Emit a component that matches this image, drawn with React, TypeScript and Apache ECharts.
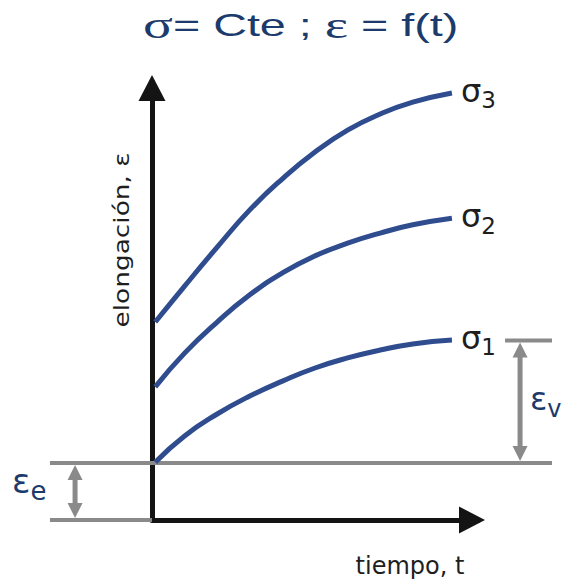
import React, { useEffect, useRef } from 'react';
import * as echarts from 'echarts';

// time values (arbitrary units) along the x axis
const times = [0.1, 1, 2, 3, 4, 5, 6, 7, 8, 9.2];
// elongation curves for three constant stresses
const sigma1 = [1.32, 1.92, 2.42, 2.83, 3.17, 3.47, 3.7, 3.88, 4.02, 4.11];
const sigma2 = [3.04, 3.81, 4.52, 5.14, 5.64, 6.03, 6.32, 6.55, 6.74, 6.89];
const sigma3 = [4.52, 5.34, 6.23, 7.08, 7.79, 8.4, 8.9, 9.27, 9.54, 9.75];
const curveSubscripts = ['1', '2', '3'];

// elastic elongation level and final level of sigma1
const elasticLevel = 1.3;
const sigma1Final = 4.1;
// gray guide lines: [xStart, xEnd, level]
const guideLines = [
  [-3.13, 12.27, elasticLevel],
  [-3.13, 0, 0],
  [10.83, 12.27, sigma1Final],
];
// double arrows: [x, lowLevel, highLevel]
const strainArrows = [
  [-2.36, 0, elasticLevel],
  [11.29, elasticLevel, sigma1Final],
];

const BLUE = '#2f4c8e';
const GRAY = '#8a8a8a';
const AXIS = '#141414';
const NAVY = '#1c3a6b';
const TEXT = '#1e1e1e';

export default function App() {
  const ref = useRef<HTMLDivElement>(null);
  useEffect(() => {
    if (!ref.current) return;
    const chart = echarts.init(ref.current, undefined, { renderer: 'svg' });
    const curves = [sigma1, sigma2, sigma3];
    const lineSeries = curves.map((vals, i) => ({
      type: 'line',
      name: 'σ' + curveSubscripts[i],
      data: times.map((t, j) => [t, vals[j]]),
      smooth: 0.5,
      symbol: 'none',
      z: 3,
      lineStyle: { color: BLUE, width: 5 },
      endLabel: {
        show: true,
        distance: 9,
        formatter: () => `{s|σ}{n|${curveSubscripts[i]}}`,
        rich: {
          s: { fontFamily: 'DejaVu Sans', fontSize: 32, color: TEXT, verticalAlign: 'top', lineHeight: 34 },
          n: { fontFamily: 'DejaVu Sans', fontSize: 23, color: TEXT, verticalAlign: 'top', lineHeight: 26, padding: [14, 0, 0, 0] },
        },
        offset: [0, -1],
      },
    }));

    const axisCommon = {
      type: 'value',
      min: 0,
      max: 10,
      axisTick: { show: false },
      axisLabel: { show: false },
      splitLine: { show: false },
      axisLine: {
        show: true,
        symbol: ['none', 'triangle'],
        symbolSize: [27, 26],
        symbolOffset: [0, -6],
        lineStyle: { color: AXIS, width: 5 },
      },
    };

    chart.setOption({
      animation: false,
      grid: { left: 152, right: 87, top: 82, bottom: 68, containLabel: false },
      xAxis: { ...axisCommon },
      yAxis: { ...axisCommon },
      series: [
        {
          type: 'custom',
          z: 2,
          clip: false,
          data: guideLines,
          renderItem: (params: any, api: any) => {
            const a = api.coord([api.value(0), api.value(2)]);
            const b = api.coord([api.value(1), api.value(2)]);
            return {
              type: 'line',
              shape: { x1: a[0], y1: a[1], x2: b[0], y2: b[1] },
              style: { stroke: GRAY, lineWidth: 4 },
            };
          },
        },
        {
          type: 'custom',
          z: 2,
          clip: false,
          data: strainArrows,
          renderItem: (params: any, api: any) => {
            const top = api.coord([api.value(0), api.value(2)]);
            const bot = api.coord([api.value(0), api.value(1)]);
            const cx = top[0];
            const yt = top[1] + 2;
            const yb = bot[1] - 2;
            const L = 15;
            const W = 7.5;
            return {
              type: 'group',
              children: [
                { type: 'line', shape: { x1: cx, y1: yt + L - 1, x2: cx, y2: yb - L + 1 }, style: { stroke: GRAY, lineWidth: 5 } },
                { type: 'polygon', shape: { points: [[cx, yt], [cx - W, yt + L], [cx + W, yt + L]] }, style: { fill: GRAY } },
                { type: 'polygon', shape: { points: [[cx, yb], [cx - W, yb - L], [cx + W, yb - L]] }, style: { fill: GRAY } },
              ],
            };
          },
        },
        ...lineSeries,
      ],
      graphic: [
        {
          type: 'text',
          x: 143,
          y: 6,
          scaleX: 1.46,
          style: {
            text: '{g|σ}{a|= Cte ; }{g|ε}{a| = f(t)}',
            rich: {
              g: { fontFamily: 'Liberation Serif', fontSize: 38, fill: NAVY },
              a: { fontFamily: 'Liberation Sans', fontSize: 32, fill: NAVY },
            },
          },
        },
        {
          type: 'text',
          x: 121,
          y: 240,
          rotation: Math.PI / 2,
          scaleX: 1.2,
          style: {
            text: 'elongación, ε',
            fontFamily: 'DejaVu Sans',
            fontSize: 22,
            fill: TEXT,
            align: 'center',
            verticalAlign: 'middle',
          },
        },
        {
          type: 'text',
          x: 410,
          y: 566,
          style: {
            text: 'tiempo, t',
            fontFamily: 'DejaVu Sans',
            fontSize: 24,
            fill: TEXT,
            align: 'center',
            verticalAlign: 'middle',
          },
        },
        {
          type: 'text',
          x: 530,
          y: 383,
          style: {
            text: '{e|ε}{s|v}',
            rich: {
              e: { fontFamily: 'DejaVu Sans', fontSize: 32, fill: NAVY, verticalAlign: 'top', lineHeight: 34 },
              s: { fontFamily: 'DejaVu Sans', fontSize: 24, fill: NAVY, verticalAlign: 'top', lineHeight: 26, padding: [14, 0, 0, 0] },
            },
          },
        },
        {
          type: 'text',
          x: 12,
          y: 464,
          style: {
            text: '{e|ε}{s|e}',
            rich: {
              e: { fontFamily: 'DejaVu Sans', fontSize: 34, fill: NAVY, verticalAlign: 'top', lineHeight: 36 },
              s: { fontFamily: 'DejaVu Sans', fontSize: 26, fill: NAVY, verticalAlign: 'top', lineHeight: 28, padding: [14, 0, 0, 0] },
            },
          },
        },
      ],
    });
    return () => chart.dispose();
  }, []);
  return (
    <div
      ref={ref}
      style={{ position: 'fixed', left: 0, top: 0, width: 565, height: 588, background: '#fff' }}
    />
  );
}
